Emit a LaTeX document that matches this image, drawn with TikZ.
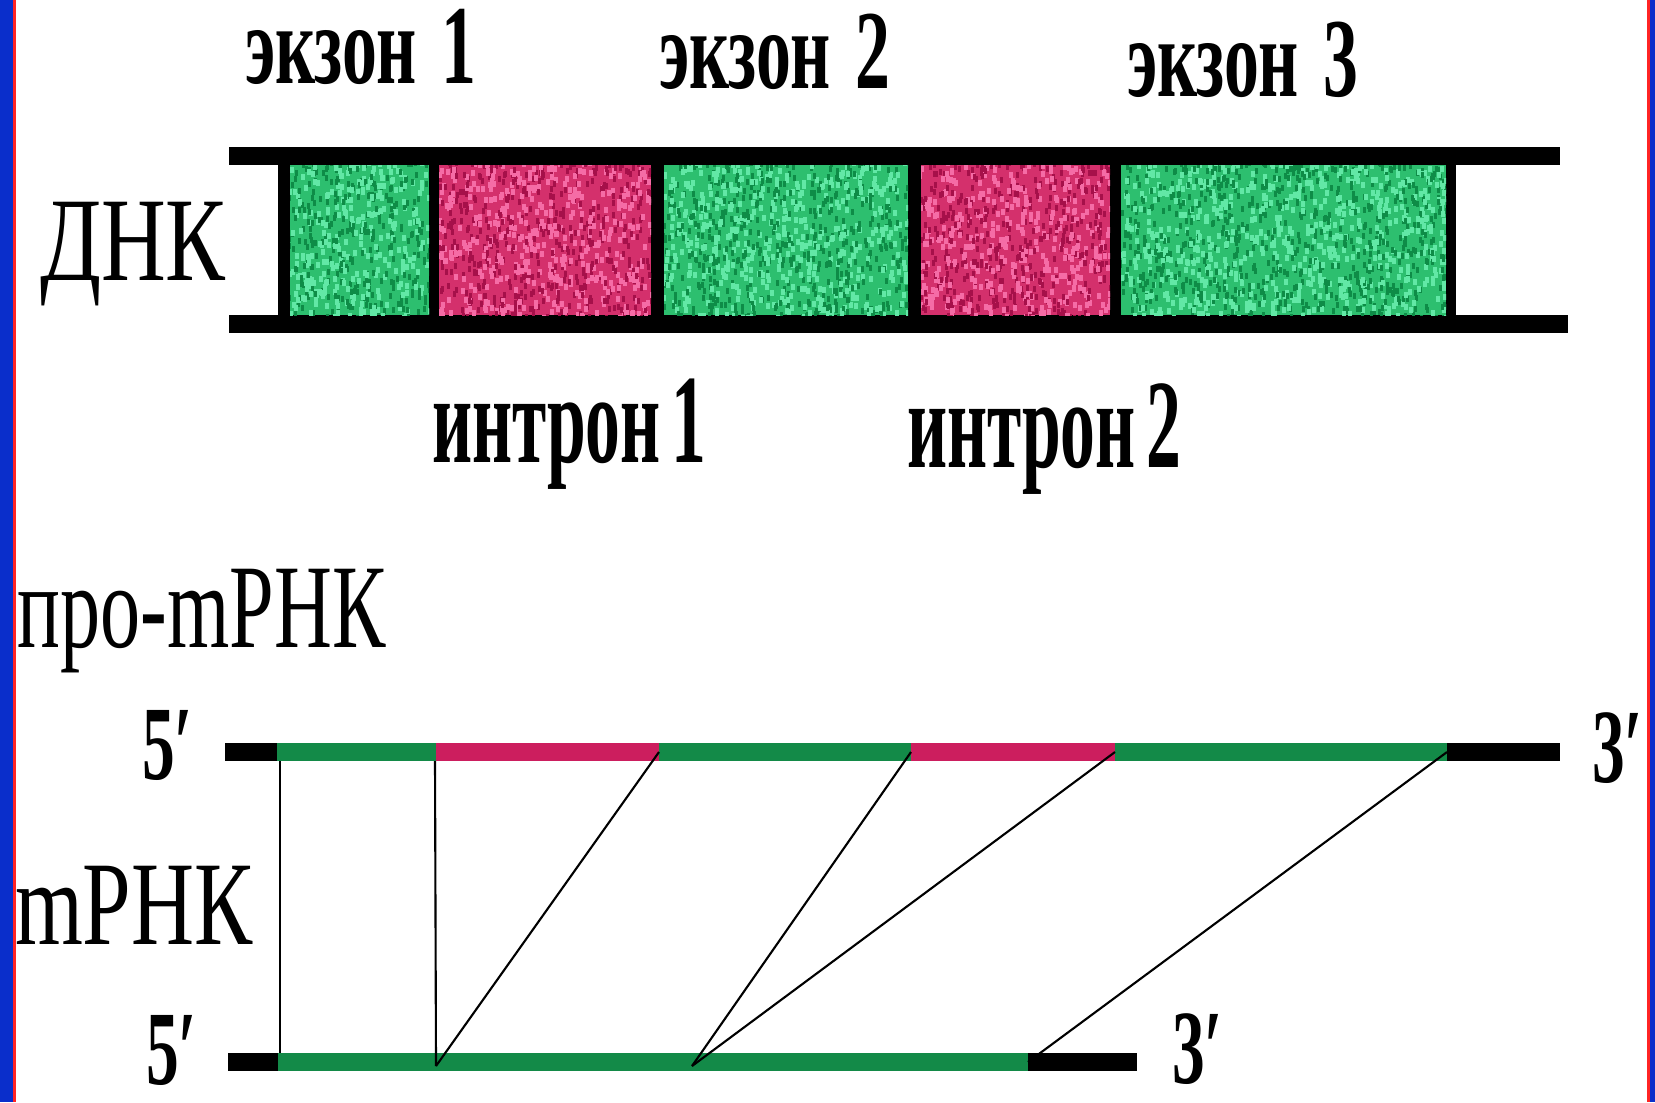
\documentclass[tikz,border=0pt]{standalone}
\usepackage{fontspec}
\setmainfont{Liberation Serif}
\usepackage{graphicx}
\definecolor{frameblue}{HTML}{0A2ECB}
\definecolor{framered}{HTML}{FF2424}
\definecolor{gbase}{HTML}{2DBF6F}
\definecolor{glight}{HTML}{62E8A6}
\definecolor{gdark}{HTML}{0E8C47}
\definecolor{mbase}{HTML}{D4306C}
\definecolor{mlight}{HTML}{F56CA6}
\definecolor{mdark}{HTML}{A6104A}
\definecolor{gline}{HTML}{138A48}
\definecolor{mline}{HTML}{CC1E5E}
\newcommand\speckbox[6]{%
  \begin{scope}
    \clip (#1,#2) rectangle (#3,#4);
    \pgfmathtruncatemacro\spkn{(#3-#1)*((#4-#2)/70)}
    \foreach \spkk in {1,...,\spkn}{
      \pgfmathsetmacro\spkx{#1-3+rnd*(#3-#1+3)}
      \pgfmathsetmacro\spky{#2-6+rnd*(#4-#2+6)}
      \fill[#5] (\spkx,\spky) rectangle ++(4,6);
      \pgfmathsetmacro\spkx{#1-3+rnd*(#3-#1+3)}
      \pgfmathsetmacro\spky{#2-6+rnd*(#4-#2+6)}
      \fill[#6] (\spkx,\spky) rectangle ++(3,6);
    }
  \end{scope}}
\newcommand\exonfont{\fontsize{32}{32}\selectfont\bfseries}
\newcommand\intronfont{\fontsize{36}{36}\selectfont\bfseries}
\newcommand\molfont{\fontsize{34}{34}\selectfont}
\newcommand\primefont{\fontsize{30}{30}\selectfont\bfseries}
\begin{document}
\begin{tikzpicture}[x=0.01cm,y=-0.01cm,
  lbl/.style={inner sep=0pt,outer sep=0pt,anchor=base west},
  conn/.style={black,line width=0.6pt}]
\useasboundingbox (0,0) rectangle (1655,1102);
\fill[white] (0,0) rectangle (1655,1102);
% frame strips
\fill[frameblue] (0,0) rectangle (13,1102);
\fill[framered] (13,0) rectangle (16,1102);
\fill[framered] (1647,0) rectangle (1650,1102);
\fill[frameblue] (1650,0) rectangle (1655,1102);

\pgfmathsetseed{7}
% ---------------- DNA ----------------
\fill[black] (229,147) rectangle (1560,165);
\fill[black] (229,315) rectangle (1568,333);
\fill[black] (278,147) rectangle (1456,333);
\fill[gbase] (290,165) rectangle (429,315);
\speckbox{290}{165}{429}{315}{glight}{gdark}
\fill[mbase] (439,165) rectangle (651,315);
\speckbox{439}{165}{651}{315}{mlight}{mdark}
\fill[gbase] (664,165) rectangle (908,315);
\speckbox{664}{165}{908}{315}{glight}{gdark}
\fill[mbase] (921,165) rectangle (1110,315);
\speckbox{921}{165}{1110}{315}{mlight}{mdark}
\fill[gbase] (1121,165) rectangle (1446,315);
\speckbox{1121}{165}{1446}{315}{glight}{gdark}

\node[lbl] (ex1) at (245,83) {\scalebox{0.62}[1]{\exonfont экзон\hspace{0.35em}1}};
\node[lbl] (ex2) at (659,88) {\scalebox{0.62}[1]{\exonfont экзон\hspace{0.35em}2}};
\node[lbl] (ex3) at (1127,96) {\scalebox{0.62}[1]{\exonfont экзон\hspace{0.35em}3}};
\node[lbl] (in1) at (432,462) {\scalebox{0.55}[1]{\intronfont интрон\hspace{0.15em}1}};
\node[lbl] (in2) at (907,467) {\scalebox{0.55}[1]{\intronfont интрон\hspace{0.15em}2}};
\node[lbl] (dnk) at (40,280) {\scalebox{0.75}[1]{\molfont ДНК}};

% ---------------- RNA ----------------
\node[lbl] (prom) at (18,647) {\scalebox{0.67}[1]{\molfont про-mРНК}};
\node[lbl] (mrna) at (15,944) {\scalebox{0.73}[1]{\molfont mРНК}};
\node[lbl] (p5a) at (142,779) {\scalebox{0.62}[1]{\primefont 5′}};
\node[lbl] (p5b) at (146,1084) {\scalebox{0.62}[1]{\primefont 5′}};
\node[lbl] (p3a) at (1592,782) {\scalebox{0.62}[1]{\primefont 3′}};
\node[lbl] (p3b) at (1172,1083) {\scalebox{0.62}[1]{\primefont 3′}};

% pro-mRNA band (y 743..761)
\fill[black] (225,743) rectangle (277,761);
\fill[gline] (277,743) rectangle (436,761);
\fill[mline] (436,743) rectangle (659,761);
\fill[gline] (659,743) rectangle (911,761);
\fill[mline] (911,743) rectangle (1115,761);
\fill[gline] (1115,743) rectangle (1447,761);
\fill[black] (1447,743) rectangle (1560,761);
% mRNA band (y 1053..1071)
\fill[black] (228,1053) rectangle (278,1071);
\fill[gline] (278,1053) rectangle (1028,1071);
\fill[black] (1028,1053) rectangle (1137,1071);

% junction coordinates
\coordinate (t1) at (280,761);
\coordinate (t2) at (435,761);
\coordinate (t3) at (659,752);
\coordinate (t4) at (911,752);
\coordinate (t5) at (1115,752);
\coordinate (t6) at (1447,752);
\coordinate (b1) at (280,1053);
\coordinate (b2) at (436,1066);
\coordinate (b3) at (692,1066);
\coordinate (b4) at (1028,1062);

\draw[conn] (t1) -- (b1);
\draw[conn] (t2) -- (b2);
\draw[conn] (t3) -- (b2);
\draw[conn] (t4) -- (b3);
\draw[conn] (t5) -- (b3);
\draw[conn] (t6) -- (b4);
\end{tikzpicture}
\end{document}
